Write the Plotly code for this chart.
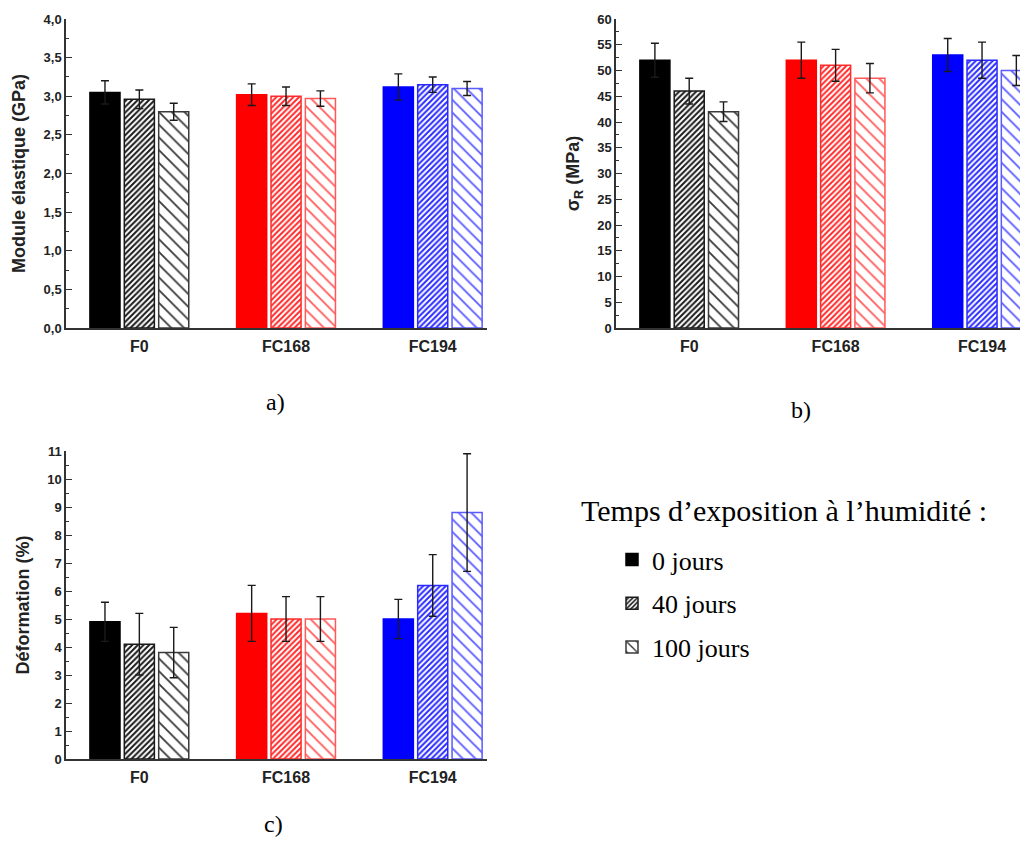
import plotly.graph_objects as go

# ---------------- data ----------------
materials = ["F0", "FC168", "FC194"]
exposures = ["0 jours", "40 jours", "100 jours"]

# a) Module élastique (GPa)
modulus_0 = [3.05, 3.02, 3.12]
modulus_40 = [2.96, 3.00, 3.15]
modulus_100 = [2.80, 2.97, 3.10]
modulus_err_0 = [0.15, 0.14, 0.17]
modulus_err_40 = [0.12, 0.12, 0.10]
modulus_err_100 = [0.11, 0.10, 0.09]

# b) Contrainte à la rupture (MPa)
stress_0 = [52.0, 52.0, 53.0]
stress_40 = [46.0, 51.0, 52.0]
stress_100 = [42.0, 48.5, 50.0]
stress_err_0 = [3.3, 3.5, 3.2]
stress_err_40 = [2.5, 3.1, 3.5]
stress_err_100 = [1.9, 2.85, 2.9]

# c) Déformation (%)
strain_0 = [4.9, 5.2, 5.0]
strain_40 = [4.1, 5.0, 6.2]
strain_100 = [3.8, 5.0, 8.8]
strain_err_0 = [0.7, 1.0, 0.7]
strain_err_40 = [1.1, 0.8, 1.1]
strain_err_100 = [0.9, 0.8, 2.1]

# ---------------- styles ----------------
PAGE_MARGIN = 8          # default body margin of the html page
W, H = 1028 - PAGE_MARGIN, 852 - PAGE_MARGIN
solid_colors = ["#000000", "#ff0000", "#0000ff"]
hatch40_colors = ["#1a1a1a", "#ff2a2a", "#2a2aff"]
hatch100_colors = ["#3a3a3a", "#ff5a5a", "#5a5aff"]
ERR_COLOR = "#1a1a1a"
AX_COLOR = "#333333"
SANS = "Liberation Sans, Arial, sans-serif"
SERIF = "Liberation Serif, Times New Roman, serif"


def px_x(p):
    return (p - PAGE_MARGIN) / W


def px_y(p):
    return 1 - (p - PAGE_MARGIN) / H


panels = [
    dict(xa="x", ya="y",
         series=[modulus_0, modulus_40, modulus_100],
         errs=[modulus_err_0, modulus_err_40, modulus_err_100]),
    dict(xa="x2", ya="y2",
         series=[stress_0, stress_40, stress_100],
         errs=[stress_err_0, stress_err_40, stress_err_100]),
    dict(xa="x3", ya="y3",
         series=[strain_0, strain_40, strain_100],
         errs=[strain_err_0, strain_err_40, strain_err_100]),
]

fig = go.Figure()

for pi, p in enumerate(panels):
    for k in range(3):
        if k == 0:
            marker = dict(color=solid_colors,
                          line=dict(color=solid_colors, width=1.5))
        elif k == 1:
            marker = dict(color=hatch40_colors,
                          line=dict(color=hatch40_colors, width=1.5),
                          pattern=dict(shape="/", size=4, solidity=0.5,
                                       fgcolor=hatch40_colors, bgcolor="white",
                                       fillmode="replace"))
        else:
            marker = dict(color=hatch100_colors,
                          line=dict(color=hatch100_colors, width=1.5),
                          pattern=dict(shape="\\", size=9, solidity=0.2,
                                       fgcolor=hatch100_colors, bgcolor="white",
                                       fillmode="replace"))
        fig.add_trace(go.Bar(
            x=materials, y=p["series"][k],
            name=exposures[k],
            legendgroup=exposures[k],
            showlegend=(pi == 0),
            marker=marker,
            error_y=dict(type="data", array=p["errs"][k], visible=True,
                         color=ERR_COLOR, thickness=1.4, width=4),
            xaxis=p["xa"], yaxis=p["ya"],
        ))

tickfont = dict(family=SANS, size=13, color="#222222", weight="bold")
xtickfont = dict(family=SANS, size=16, color="#222222", weight="bold")
titlefont = dict(family=SANS, size=18, color="#222222", weight="bold")


def xaxis_common(domain, rng, anchor):
    return dict(domain=domain, anchor=anchor, type="category", range=rng,
                showline=True, linecolor=AX_COLOR, linewidth=1.5,
                ticks="", showgrid=False, zeroline=False, automargin=False,
                tickfont=xtickfont, ticklabelstandoff=3)


def yaxis_common(domain, rng, dtick, minor, anchor, title, fmt):
    return dict(domain=domain, anchor=anchor, range=rng, dtick=dtick,
                tick0=0, tickformat=fmt, automargin=False,
                showline=True, linecolor=AX_COLOR, linewidth=1.5,
                ticks="inside", ticklen=6, tickwidth=1.2, tickcolor=AX_COLOR,
                minor=dict(dtick=minor, ticks="inside", ticklen=3,
                           tickwidth=1, tickcolor=AX_COLOR, showgrid=False),
                showgrid=False, zeroline=False, tickfont=tickfont,
                title=dict(text=title, font=titlefont, standoff=13))


dom_x_left = [px_x(66), px_x(487)]
dom_x_right = [px_x(616), 1.0]
dom_y_top = [px_y(328), px_y(19)]
dom_y_bot = [px_y(759), px_y(451)]

fig.update_layout(
    width=W, height=H,
    margin=dict(l=0, r=0, t=0, b=0, autoexpand=False),
    paper_bgcolor="white", plot_bgcolor="white",
    separators=", ",
    barmode="group", bargap=0.297, bargroupgap=0.125,
    xaxis=xaxis_common(dom_x_left, [-0.5, 2.37], "y"),
    yaxis=yaxis_common(dom_y_top, [0, 4.0], 0.5, 0.25, "x",
                       "Module élastique (GPa)", ".1f"),
    xaxis2=xaxis_common(dom_x_right, [-0.5, 2.314], "y2"),
    yaxis2=yaxis_common(dom_y_top, [0, 60], 5, 2.5, "x2",
                        "σ<sub>R</sub> (MPa)", "d"),
    xaxis3=xaxis_common(dom_x_left, [-0.5, 2.37], "y3"),
    yaxis3=yaxis_common(dom_y_bot, [0, 11], 1, 0.5, "x3",
                        "Déformation (%)", "d"),
    legend=dict(x=px_x(612), y=px_y(536), xanchor="left", yanchor="top",
                font=dict(family=SERIF, size=26, color="black"),
                traceorder="grouped", tracegroupgap=7,
                bgcolor="rgba(0,0,0,0)", itemwidth=30),
    showlegend=True,
)

captions = [("a)", 264, 402), ("b)", 813, 410), ("c)", 262, 839)]
for txt, cx, cy in captions:
    fig.add_annotation(text=txt, x=px_x(cx), y=px_y(cy), xref="paper",
                       yref="paper", showarrow=False,
                       font=dict(family=SERIF, size=24, color="black"))

fig.add_annotation(text="Temps d’exposition à l’humidité :",
                   x=px_x(579), y=px_y(510), xref="paper", yref="paper",
                   xanchor="left", yanchor="middle", showarrow=False,
                   font=dict(family=SERIF, size=30, color="black"))

fig.write_html("out.html")
